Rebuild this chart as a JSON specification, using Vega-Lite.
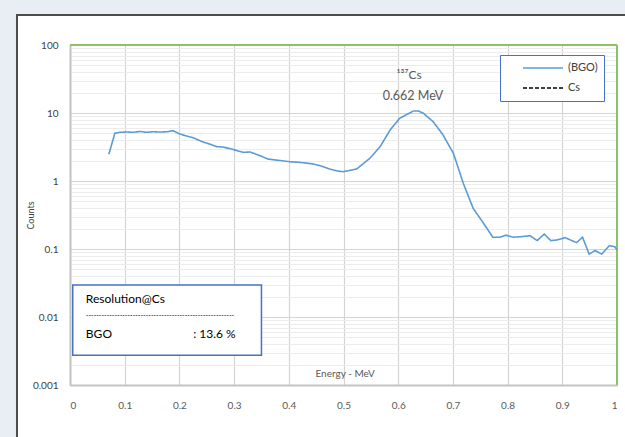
{
  "$schema": "https://vega.github.io/schema/vega-lite/v6.json",
  "width": 547,
  "height": 340,
  "autosize": {"type": "none"},
  "padding": {"left": 70, "top": 45, "right": 8, "bottom": 52},
  "background": "white",
  "config": {
    "font": "Lato",
    "view": {"stroke": null},
    "legend": {
      "orient": "none",
      "legendX": 430,
      "legendY": 10,
      "strokeColor": "#4472c4",
      "fillColor": "white",
      "padding": 6,
      "symbolType": "stroke",
      "symbolSize": 1600,
      "symbolStrokeWidth": 1.5,
      "labelFontSize": 11,
      "labelColor": "#404040",
      "rowPadding": 6,
      "clipHeight": 14,
      "symbolOffset": 16,
      "labelOffset": 4
    }
  },
  "datasets": {
    "one": [{}],
    "spectrum": [
      {"energy": 0.071, "counts": 2.47, "series": "(BGO)"},
      {"energy": 0.082, "counts": 5.03, "series": "(BGO)"},
      {"energy": 0.091, "counts": 5.2, "series": "(BGO)"},
      {"energy": 0.105, "counts": 5.25, "series": "(BGO)"},
      {"energy": 0.115, "counts": 5.2, "series": "(BGO)"},
      {"energy": 0.128, "counts": 5.35, "series": "(BGO)"},
      {"energy": 0.14, "counts": 5.2, "series": "(BGO)"},
      {"energy": 0.152, "counts": 5.3, "series": "(BGO)"},
      {"energy": 0.165, "counts": 5.25, "series": "(BGO)"},
      {"energy": 0.178, "counts": 5.3, "series": "(BGO)"},
      {"energy": 0.188, "counts": 5.5, "series": "(BGO)"},
      {"energy": 0.201, "counts": 4.9, "series": "(BGO)"},
      {"energy": 0.213, "counts": 4.6, "series": "(BGO)"},
      {"energy": 0.225, "counts": 4.33, "series": "(BGO)"},
      {"energy": 0.243, "counts": 3.75, "series": "(BGO)"},
      {"energy": 0.255, "counts": 3.5, "series": "(BGO)"},
      {"energy": 0.268, "counts": 3.2, "series": "(BGO)"},
      {"energy": 0.28, "counts": 3.16, "series": "(BGO)"},
      {"energy": 0.295, "counts": 2.95, "series": "(BGO)"},
      {"energy": 0.317, "counts": 2.64, "series": "(BGO)"},
      {"energy": 0.329, "counts": 2.67, "series": "(BGO)"},
      {"energy": 0.345, "counts": 2.4, "series": "(BGO)"},
      {"energy": 0.362, "counts": 2.1, "series": "(BGO)"},
      {"energy": 0.38, "counts": 2.02, "series": "(BGO)"},
      {"energy": 0.402, "counts": 1.92, "series": "(BGO)"},
      {"energy": 0.42, "counts": 1.88, "series": "(BGO)"},
      {"energy": 0.445, "counts": 1.78, "series": "(BGO)"},
      {"energy": 0.46, "counts": 1.65, "series": "(BGO)"},
      {"energy": 0.475, "counts": 1.5, "series": "(BGO)"},
      {"energy": 0.49, "counts": 1.4, "series": "(BGO)"},
      {"energy": 0.5, "counts": 1.37, "series": "(BGO)"},
      {"energy": 0.524, "counts": 1.5, "series": "(BGO)"},
      {"energy": 0.548, "counts": 2.15, "series": "(BGO)"},
      {"energy": 0.567, "counts": 3.2, "series": "(BGO)"},
      {"energy": 0.585, "counts": 5.6, "series": "(BGO)"},
      {"energy": 0.603, "counts": 8.4, "series": "(BGO)"},
      {"energy": 0.628, "counts": 10.7, "series": "(BGO)"},
      {"energy": 0.637, "counts": 10.7, "series": "(BGO)"},
      {"energy": 0.646, "counts": 9.9, "series": "(BGO)"},
      {"energy": 0.664, "counts": 7.45, "series": "(BGO)"},
      {"energy": 0.682, "counts": 4.75, "series": "(BGO)"},
      {"energy": 0.701, "counts": 2.55, "series": "(BGO)"},
      {"energy": 0.719, "counts": 0.925, "series": "(BGO)"},
      {"energy": 0.737, "counts": 0.397, "series": "(BGO)"},
      {"energy": 0.756, "counts": 0.239, "series": "(BGO)"},
      {"energy": 0.773, "counts": 0.149, "series": "(BGO)"},
      {"energy": 0.786, "counts": 0.149, "series": "(BGO)"},
      {"energy": 0.797, "counts": 0.16, "series": "(BGO)"},
      {"energy": 0.81, "counts": 0.149, "series": "(BGO)"},
      {"energy": 0.826, "counts": 0.152, "series": "(BGO)"},
      {"energy": 0.841, "counts": 0.157, "series": "(BGO)"},
      {"energy": 0.854, "counts": 0.133, "series": "(BGO)"},
      {"energy": 0.867, "counts": 0.166, "series": "(BGO)"},
      {"energy": 0.879, "counts": 0.133, "series": "(BGO)"},
      {"energy": 0.891, "counts": 0.136, "series": "(BGO)"},
      {"energy": 0.905, "counts": 0.147, "series": "(BGO)"},
      {"energy": 0.926, "counts": 0.124, "series": "(BGO)"},
      {"energy": 0.937, "counts": 0.149, "series": "(BGO)"},
      {"energy": 0.949, "counts": 0.084, "series": "(BGO)"},
      {"energy": 0.96, "counts": 0.095, "series": "(BGO)"},
      {"energy": 0.972, "counts": 0.084, "series": "(BGO)"},
      {"energy": 0.986, "counts": 0.112, "series": "(BGO)"},
      {"energy": 0.996, "counts": 0.108, "series": "(BGO)"},
      {"energy": 1.0, "counts": 0.097, "series": "(BGO)"}
    ]
  },
  "layer": [
    {
      "data": {"name": "one"},
      "mark": {"type": "rect", "fill": "#e9eef5", "stroke": null},
      "encoding": {
        "x": {"datum": -0.5, "type": "quantitative"},
        "x2": {"datum": 1.5},
        "y": {"datum": 100000, "type": "quantitative"},
        "y2": {"datum": 276}
      }
    },
    {
      "data": {"name": "one"},
      "mark": {"type": "rect", "fill": "#e9eef5", "stroke": null},
      "encoding": {
        "x": {"datum": -0.5, "type": "quantitative"},
        "x2": {"datum": -0.0969},
        "y": {"datum": 100000, "type": "quantitative"},
        "y2": {"datum": 0.00001}
      }
    },
    {
      "data": {"name": "one"},
      "mark": {"type": "rect", "fill": null, "stroke": "#4d4d4d", "strokeWidth": 2},
      "encoding": {
        "x": {"datum": -0.0969, "type": "quantitative"},
        "x2": {"datum": 1.2},
        "y": {"datum": 276, "type": "quantitative"},
        "y2": {"datum": 0.000155}
      }
    },
    {
      "data": {"name": "one"},
      "mark": {"type": "rule", "color": "#8cc26a", "strokeWidth": 2},
      "encoding": {
        "x": {"datum": 0, "type": "quantitative"},
        "x2": {"datum": 1},
        "y": {"datum": 100, "type": "quantitative"}
      }
    },
    {
      "data": {"name": "one"},
      "mark": {"type": "rule", "color": "#8cc26a", "strokeWidth": 2},
      "encoding": {
        "x": {"datum": 1, "type": "quantitative"},
        "y": {"datum": 100, "type": "quantitative"},
        "y2": {"datum": 0.001}
      }
    },
    {
      "data": {"name": "spectrum"},
      "mark": {"type": "line", "strokeWidth": 1.6},
      "encoding": {
        "x": {
          "field": "energy",
          "type": "quantitative",
          "scale": {"domain": [0, 1]},
          "axis": {
            "title": null,
            "grid": true,
            "values": [0, 0.1, 0.2, 0.3, 0.4, 0.5, 0.6, 0.7, 0.8, 0.9, 1],
            "format": "~g",
            "ticks": false,
            "labelPadding": 15,
            "labelFontSize": 10,
            "labelColor": "#595959",
            "domainColor": "#c4c4c4",
            "domainWidth": 2,
            "gridColor": "#d4d4d4",
            "gridWidth": 1.2
          }
        },
        "y": {
          "field": "counts",
          "type": "quantitative",
          "scale": {"type": "log", "domain": [0.001, 100]},
          "axis": {
            "title": "Counts",
            "grid": true,
            "titleFontSize": 9,
            "titleFontWeight": "normal",
            "titleColor": "#404040",
            "titlePadding": -3,
            "values": [0.001, 0.002, 0.003, 0.004, 0.005, 0.006, 0.007, 0.008, 0.009, 0.01, 0.02, 0.03, 0.04, 0.05, 0.06, 0.07, 0.08, 0.09, 0.1, 0.2, 0.3, 0.4, 0.5, 0.6, 0.7, 0.8, 0.9, 1, 2, 3, 4, 5, 6, 7, 8, 9, 10, 20, 30, 40, 50, 60, 70, 80, 90, 100],
            "labelExpr": "abs(log(datum.value)/LN10 - round(log(datum.value)/LN10)) < 0.000001 ? format(datum.value, '~g') : ''",
            "ticks": false,
            "labelPadding": 12,
            "labelFontSize": 10,
            "labelColor": "#404040",
            "domainColor": "#c4c4c4",
            "domainWidth": 2,
            "gridColor": {
              "condition": {"test": "abs(log(datum.value)/LN10 - round(log(datum.value)/LN10)) < 0.000001", "value": "#d4d4d4"},
              "value": "#ececec"
            },
            "gridWidth": 1.2
          }
        },
        "color": {
          "field": "series",
          "type": "nominal",
          "scale": {"domain": ["(BGO)", "Cs"], "range": ["#5b9bd5", "#000000"]},
          "legend": {"title": null}
        },
        "strokeDash": {
          "field": "series",
          "type": "nominal",
          "scale": {"domain": ["(BGO)", "Cs"], "range": [[1, 0], [4, 2]]},
          "legend": {"title": null}
        }
      }
    },
    {
      "data": {"name": "one"},
      "mark": {"type": "text", "text": "¹³⁷Cs", "fontSize": 12, "color": "#595959", "align": "center", "baseline": "middle"},
      "encoding": {
        "x": {"datum": 0.62, "type": "quantitative"},
        "y": {"datum": 36, "type": "quantitative"}
      }
    },
    {
      "data": {"name": "one"},
      "mark": {"type": "text", "text": "0.662 MeV", "fontSize": 12.5, "color": "#595959", "align": "center", "baseline": "middle"},
      "encoding": {
        "x": {"datum": 0.627, "type": "quantitative"},
        "y": {"datum": 17.8, "type": "quantitative"}
      }
    },
    {
      "data": {"name": "one"},
      "mark": {"type": "text", "text": "Energy - MeV", "fontSize": 10, "color": "#595959", "align": "center", "baseline": "middle"},
      "encoding": {
        "x": {"datum": 0.503, "type": "quantitative"},
        "y": {"datum": 0.00145, "type": "quantitative"}
      }
    },
    {
      "data": {"name": "one"},
      "mark": {"type": "rect", "fill": "white", "stroke": "#4472c4", "strokeWidth": 1.5},
      "encoding": {
        "x": {"datum": 0.005, "type": "quantitative"},
        "x2": {"datum": 0.35},
        "y": {"datum": 0.0295, "type": "quantitative"},
        "y2": {"datum": 0.00275}
      }
    },
    {
      "data": {"name": "one"},
      "mark": {"type": "text", "text": "Resolution@Cs", "fontSize": 12, "color": "#000000", "align": "left", "baseline": "middle"},
      "encoding": {
        "x": {"datum": 0.029, "type": "quantitative"},
        "y": {"datum": 0.0184, "type": "quantitative"}
      }
    },
    {
      "data": {"name": "one"},
      "mark": {"type": "text", "text": "---------------------------------------------------------", "fontSize": 7, "color": "#000000", "align": "left", "baseline": "middle"},
      "encoding": {
        "x": {"datum": 0.029, "type": "quantitative"},
        "y": {"datum": 0.0105, "type": "quantitative"}
      }
    },
    {
      "data": {"name": "one"},
      "mark": {"type": "text", "text": "BGO", "fontSize": 12, "color": "#000000", "align": "left", "baseline": "middle"},
      "encoding": {
        "x": {"datum": 0.029, "type": "quantitative"},
        "y": {"datum": 0.0056, "type": "quantitative"}
      }
    },
    {
      "data": {"name": "one"},
      "mark": {"type": "text", "text": ": 13.6 %", "fontSize": 12, "color": "#000000", "align": "right", "baseline": "middle"},
      "encoding": {
        "x": {"datum": 0.303, "type": "quantitative"},
        "y": {"datum": 0.0056, "type": "quantitative"}
      }
    }
  ]
}
